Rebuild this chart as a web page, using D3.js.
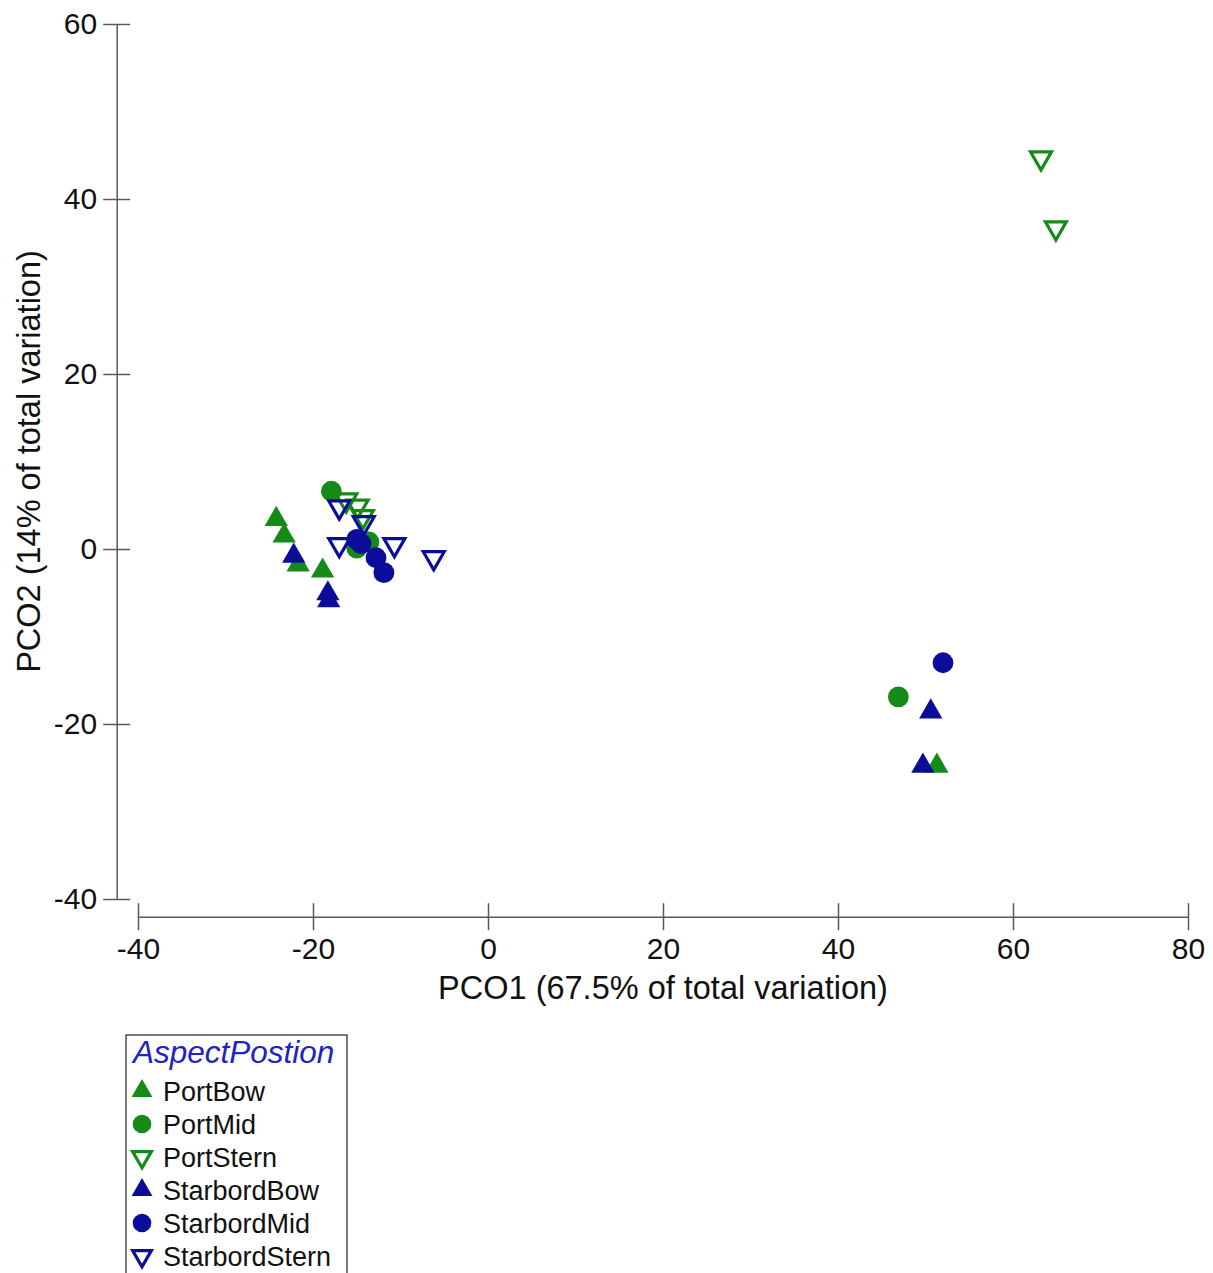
<!DOCTYPE html>
<html>
<head>
<meta charset="utf-8">
<script src="https://cdn.jsdelivr.net/npm/d3@7"></script>
<style>
  html, body { margin: 0; padding: 0; background: #fff; }
  svg { display: block; font-family: Arial, "Liberation Sans", sans-serif; }
</style>
</head>
<body>
<svg id="chart" width="1213" height="1273"></svg>
<script>
// ---- data ----
const groups = ["PortBow", "PortMid", "PortStern", "StarbordBow", "StarbordMid", "StarbordStern"];
const groupColors = ["#168a16", "#168a16", "#168a16", "#0c0c9a", "#0c0c9a", "#0c0c9a"];
const groupShapes = ["triangle", "circle", "down", "triangle", "circle", "down"];

const portBowX = [-24.2, -23.3, -21.7, -18.9, 51.3];
const portBowY = [3.4, 1.5, -1.8, -2.5, -24.8];
const portMidX = [-17.9, -15.0, -13.6, 46.9];
const portMidY = [6.6, 0.1, 0.8, -16.9];
const portSternX = [-16.2, -14.9, -14.3, 63.2, 64.9];
const portSternY = [5.6, 4.9, 3.7, 44.7, 36.7];
const starBowX = [-22.2, -18.3, -18.2, 50.6, 49.7];
const starBowY = [-0.8, -5.1, -5.9, -18.6, -24.8];
const starMidX = [-15.0, -14.5, -12.8, -11.9, 52.0];
const starMidY = [1.1, 0.6, -1.0, -2.7, -13.0];
const starSternX = [-17.0, -14.2, -17.0, -10.7, -6.2];
const starSternY = [4.8, 3.0, 0.5, 0.5, -1.0];

const seriesX = [portBowX, portMidX, portSternX, starBowX, starMidX, starSternX];
const seriesY = [portBowY, portMidY, portSternY, starBowY, starMidY, starSternY];

const xTicks = [-40, -20, 0, 20, 40, 60, 80];
const yTicks = [-40, -20, 0, 20, 40, 60];
const xTitle = "PCO1 (67.5% of total variation)";
const yTitle = "PCO2 (14% of total variation)";
const legendTitle = "AspectPostion";

// ---- layout ----
const svg = d3.select("#chart");
const x = d3.scaleLinear().domain([-40, 80]).range([138, 1188]);
const y = d3.scaleLinear().domain([-40, 60]).range([899, 24]);
const yAxisX = 116.7, xAxisY = 916.7, tickHalf = 13.5;
const axisColor = "#5a5a5a";
const fmt = d => String(d);

// y axis
const gy = svg.append("g").attr("transform", `translate(${yAxisX},0)`)
  .call(d3.axisLeft(y).tickValues(yTicks).tickFormat(fmt).tickSize(tickHalf).tickSizeOuter(0).tickPadding(6));
gy.select(".domain").attr("stroke", axisColor).attr("stroke-width", 1.5);
gy.selectAll(".tick line").attr("x1", tickHalf).attr("stroke", axisColor).attr("stroke-width", 1.5);
gy.selectAll(".tick text").attr("font-size", 30).attr("fill", "#111")
  .attr("font-family", "Arial, 'Liberation Sans', sans-serif");

// x axis
const gx = svg.append("g").attr("transform", `translate(0,${xAxisY})`)
  .call(d3.axisBottom(x).tickValues(xTicks).tickFormat(fmt).tickSize(tickHalf).tickSizeOuter(0).tickPadding(8));
gx.select(".domain").attr("stroke", axisColor).attr("stroke-width", 1.5);
gx.selectAll(".tick line").attr("y1", -tickHalf).attr("stroke", axisColor).attr("stroke-width", 1.5);
gx.selectAll(".tick text").attr("font-size", 30).attr("fill", "#111")
  .attr("font-family", "Arial, 'Liberation Sans', sans-serif");

// titles
svg.append("text").attr("x", (x(-40) + x(80)) / 2).attr("y", 999)
  .attr("text-anchor", "middle").attr("font-size", 32.5).attr("fill", "#111").text(xTitle);
svg.append("text").attr("transform", `translate(40,${(y(-40) + y(60)) / 2}) rotate(-90)`)
  .attr("text-anchor", "middle").attr("font-size", 32.5).attr("fill", "#111").text(yTitle);

// symbols
function symbolPath(shape, scale) {
  if (shape === "circle") return d3.symbol().type(d3.symbolCircle).size(340 * scale)();
  if (shape === "triangle") return d3.symbol().type(d3.symbolTriangle).size(235 * scale)();
  return d3.symbol().type(d3.symbolTriangle).size(190 * scale)();
}
function drawSymbol(g, shape, color, scale) {
  const p = g.append("path").attr("d", symbolPath(shape, scale));
  if (shape === "down") {
    p.attr("transform", "rotate(180)")
     .attr("fill", "none").attr("stroke", color).attr("stroke-width", 3.2).attr("stroke-linejoin", "miter");
  } else {
    p.attr("fill", color);
  }
  return p;
}

const pts = svg.append("g");
groups.forEach((gname, i) => {
  seriesX[i].forEach((vx, j) => {
    const g = pts.append("g").attr("transform", `translate(${x(vx)},${y(seriesY[i][j])})`);
    drawSymbol(g, groupShapes[i], groupColors[i], 1);
  });
});

// legend
const lg = svg.append("g");
lg.append("rect").attr("x", 126).attr("y", 1035).attr("width", 221).attr("height", 260)
  .attr("fill", "#fff").attr("stroke", "#222").attr("stroke-width", 1.2);
lg.append("text").attr("x", 133).attr("y", 1063).attr("font-size", 31.5)
  .attr("font-style", "italic").attr("fill", "#2222c4").text(legendTitle);
groups.forEach((gname, i) => {
  const cy = 1091 + i * 33;
  const g = lg.append("g").attr("transform", `translate(142,${cy})`);
  drawSymbol(g, groupShapes[i], groupColors[i], 0.8);
  lg.append("text").attr("x", 163).attr("y", cy + 10).attr("font-size", 27)
    .attr("fill", "#111").text(gname);
});
</script>
</body>
</html>
